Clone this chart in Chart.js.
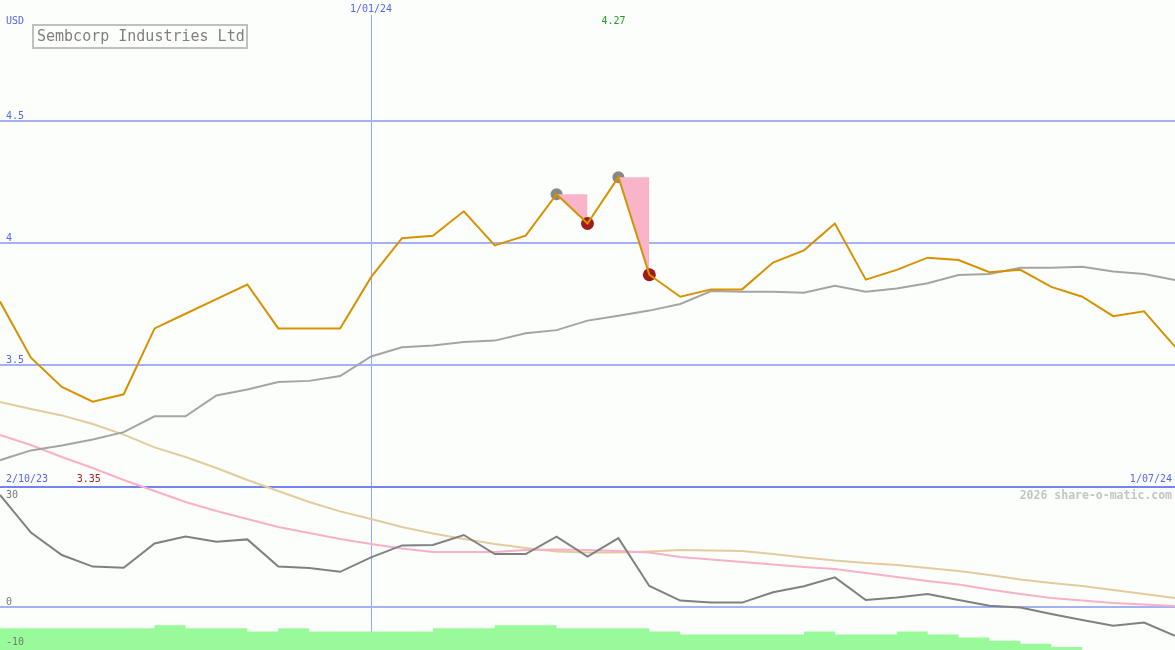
<!DOCTYPE html>
<html>
<head>
<meta charset="utf-8">
<script src="https://cdn.jsdelivr.net/npm/chart.js@4.4.1/dist/chart.umd.min.js"></script>
<style>
  html, body { margin: 0; padding: 0; background: #fcfefc; }
  canvas { display: block; }
</style>
</head>
<body>
<canvas id="chartPrice" width="1175" height="650"></canvas>
<script>
// weekly closes, Sembcorp Industries (USD)
const dates = ['9/10/23', '16/10/23', '23/10/23', '30/10/23', '6/11/23', '13/11/23', '20/11/23', '27/11/23',
  '4/12/23', '11/12/23', '18/12/23', '25/12/23', '1/01/24', '8/01/24', '15/01/24', '22/01/24', '29/01/24',
  '5/02/24', '12/02/24', '19/02/24', '26/02/24', '4/03/24', '11/03/24', '18/03/24', '25/03/24', '1/04/24',
  '8/04/24', '15/04/24', '22/04/24', '29/04/24', '6/05/24', '13/05/24', '20/05/24', '27/05/24', '3/06/24',
  '10/06/24', '17/06/24', '24/06/24', '1/07/24'];
const price = [3.76, 3.53, 3.41, 3.35, 3.38, 3.65, 3.71, 3.77, 3.83, 3.65, 3.65, 3.65, 3.86,
  4.02, 4.03, 4.13, 3.99, 4.03, 4.20, 4.08, 4.27, 3.87, 3.78, 3.81, 3.81, 3.92,
  3.97, 4.08, 3.85, 3.89, 3.94, 3.93, 3.88, 3.89, 3.82, 3.78, 3.70, 3.72, 3.575];
const avgLong = [3.11, 3.15, 3.17, 3.195, 3.225, 3.29, 3.29, 3.375, 3.40, 3.43, 3.435, 3.455, 3.535,
  3.573, 3.58, 3.594, 3.60, 3.63, 3.643, 3.682, 3.702, 3.723, 3.75, 3.803, 3.80, 3.80,
  3.796, 3.825, 3.80, 3.814, 3.835, 3.869, 3.873, 3.899, 3.899, 3.903, 3.883, 3.873, 3.848];
// lower panel
const momentum = [28.0, 18.6, 13.0, 10.1, 9.8, 15.9, 17.6, 16.3, 16.9, 10.1, 9.75, 8.8, 12.4,
  15.4, 15.5, 18.0, 13.25, 13.25, 17.6, 12.6, 17.2, 5.25, 1.6, 1.1, 1.1, 3.7,
  5.2, 7.4, 1.75, 2.4, 3.25, 1.75, 0.3, -0.1, -1.75, -3.25, -4.7, -3.9, -7.2];
const avgPink = [43.0, 40.5, 37.5, 34.75, 31.75, 29.0, 26.25, 24.0, 22.0, 20.0, 18.5, 17.0, 15.75,
  14.6, 13.75, 13.75, 13.75, 14.25, 14.4, 14.25, 14.0, 13.6, 12.5, 11.9, 11.25, 10.6,
  10.0, 9.5, 8.5, 7.5, 6.5, 5.6, 4.4, 3.25, 2.25, 1.6, 1.0, 0.6, 0.25];
const avgTan = [51.25, 49.5, 47.9, 45.75, 43.1, 39.9, 37.5, 34.75, 31.75, 29.0, 26.25, 23.9, 22.0,
  20.0, 18.4, 17.0, 15.75, 14.75, 13.9, 13.6, 13.6, 13.9, 14.25, 14.1, 14.0, 13.25,
  12.4, 11.6, 11.0, 10.5, 9.75, 9.0, 8.0, 6.9, 6.0, 5.25, 4.25, 3.25, 2.25];
const volume = [7, 7, 7, 7, 7, 8, 7, 7, 6, 7, 6, 6, 6, 6, 7, 7, 8, 8, 7, 7, 7, 6,
  5, 5, 5, 5, 6, 5, 5, 6, 5, 4, 3, 2, 1, 0, 0, 0, 0];
const peakIdx = [18, 20];
const dropIdx = [19, 21];
const priceTicks = [3.5, 4, 4.5];
const lowerTicks = [30, 0, -10];
const startLabel = '2/10/23';
const newYearIdx = 12;

const blueText = '#5565f0';
const mono = '"DejaVu Sans Mono", "Liberation Mono", monospace';

const marks = (idx) => price.map((v, i) => idx.includes(i) ? v : null);
const dropFill = (k) => price.map((v, i) =>
  (i === peakIdx[k] || i === dropIdx[k]) ? price[peakIdx[k]] : null);

const hi = Math.max(...price);
const lo = Math.min(...price);

const labelsPlugin = {
  id: 'labels',
  afterDatasetsDraw(chart) {
    const { ctx, scales } = chart;
    const x = scales.x, y = scales.y, y2 = scales.y2;
    const panelTop = y.getPixelForValue(3);
    ctx.save();
    ctx.textBaseline = 'middle';
    ctx.font = '10px ' + mono;
    ctx.textAlign = 'left';
    ctx.fillStyle = blueText;
    ctx.fillText('USD', 6, 21);
    priceTicks.forEach(v => ctx.fillText(String(v), 6, y.getPixelForValue(v) - 5));
    ctx.fillText(startLabel, 6, panelTop - 8);
    ctx.textAlign = 'right';
    ctx.fillText(dates[dates.length - 1], 1172, panelTop - 8);
    // top date over the vertical line
    ctx.textAlign = 'center';
    const nx = x.getPixelForValue(newYearIdx);
    ctx.fillStyle = '#fcfefc';
    ctx.fillRect(nx - 22, 0, 44, 15);
    ctx.fillStyle = blueText;
    ctx.fillText(dates[newYearIdx], nx, 9);
    // high / low
    ctx.fillStyle = '#20a020';
    ctx.fillText(hi.toFixed(2), x.getPixelForValue(price.indexOf(hi)) - 5, 21);
    ctx.fillStyle = '#a02020';
    ctx.fillText(lo.toFixed(2), x.getPixelForValue(price.indexOf(lo)) - 4, panelTop - 8);
    // lower panel ticks
    ctx.textAlign = 'left';
    ctx.fillStyle = '#787878';
    lowerTicks.forEach(v => {
      const py = Math.max(y2.getPixelForValue(v) - 5, panelTop + 8);
      ctx.fillText(String(v), 6, py);
    });
    ctx.textAlign = 'right';
    ctx.fillStyle = '#c4c4c4';
    ctx.font = 'bold 11.5px ' + mono;
    ctx.fillText('2026 share-o-matic.com', 1172, panelTop + 9);
    // title box
    ctx.strokeStyle = '#c0c0c0';
    ctx.lineWidth = 2;
    ctx.strokeRect(33, 25, 214, 23);
    ctx.textAlign = 'left';
    ctx.fillStyle = '#808080';
    ctx.font = '15px ' + mono;
    ctx.fillText('Sembcorp Industries Ltd', 37, 37);
    ctx.restore();
  }
};

const ctxPrice = document.getElementById('chartPrice');
new Chart(ctxPrice, {
  type: 'line',
  data: {
    labels: dates,
    datasets: [
      { data: price, borderColor: '#d69200', borderWidth: 2, pointRadius: 0, yAxisID: 'y' },
      { data: marks(dropIdx), showLine: false, pointRadius: 6.5, pointBorderWidth: 0,
        pointBackgroundColor: '#a01c1c', yAxisID: 'y' },
      { data: dropFill(0), borderWidth: 0, borderColor: 'transparent', pointRadius: 0,
        backgroundColor: '#f8b4c8', fill: 0, yAxisID: 'y' },
      { data: dropFill(1), borderWidth: 0, borderColor: 'transparent', pointRadius: 0,
        backgroundColor: '#f8b4c8', fill: 0, yAxisID: 'y' },
      { data: marks(peakIdx), showLine: false, pointRadius: 6, pointBorderWidth: 0,
        pointBackgroundColor: '#888888', yAxisID: 'y' },
      { data: avgLong, borderColor: '#a4a4a4', borderWidth: 2, pointRadius: 0, yAxisID: 'y' },
      { data: momentum, borderColor: '#808080', borderWidth: 2, pointRadius: 0, yAxisID: 'y2' },
      { data: avgPink, borderColor: '#f8b0c8', borderWidth: 2, pointRadius: 0, yAxisID: 'y2' },
      { data: avgTan, borderColor: '#e2cc9c', borderWidth: 2, pointRadius: 0, yAxisID: 'y2' },
      { data: volume, stepped: 'before', borderWidth: 0, borderColor: 'transparent', pointRadius: 0,
        backgroundColor: '#98fa98', fill: 'start', yAxisID: 'yv' }
    ]
  },
  options: {
    responsive: false,
    animation: false,
    layout: { padding: 0, autoPadding: false },
    elements: { line: { tension: 0 } },
    plugins: {
      legend: { display: false },
      tooltip: { enabled: false }
    },
    scales: {
      x: {
        offset: false,
        ticks: { display: false },
        border: { display: false },
        grid: { color: '#98a8f8', lineWidth: 1, drawTicks: false },
        afterBuildTicks: s => { s.ticks = s.ticks.filter(t => t.value === newYearIdx); }
      },
      y: {
        min: 2.332, max: 4.996,
        ticks: { display: false },
        border: { display: false },
        grid: {
          drawTicks: false, lineWidth: 2,
          color: c => c.tick && c.tick.value === 3 ? '#7484ee' : '#a4b2f4'
        },
        afterBuildTicks: s => { s.ticks = [3].concat(priceTicks).map(v => ({ value: v })); }
      },
      y2: {
        min: -10.75, max: 151.75,
        ticks: { display: false },
        border: { display: false },
        grid: { drawTicks: false, lineWidth: 2, color: '#a4b2f4' },
        afterBuildTicks: s => { s.ticks = [{ value: 0 }]; }
      },
      yv: {
        display: false,
        min: 0, max: 209.7
      }
    }
  },
  plugins: [labelsPlugin]
});
</script>
</body>
</html>
